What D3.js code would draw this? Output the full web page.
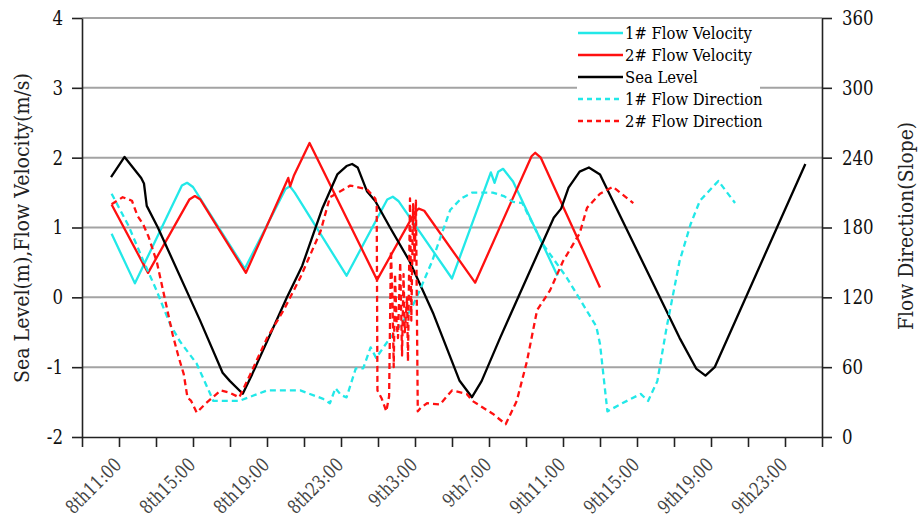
<!DOCTYPE html>
<html>
<head>
<meta charset="utf-8">
<script src="https://cdn.jsdelivr.net/npm/d3@7"></script>
<style>
body { margin: 0; background: #fff; }
</style>
</head>
<body>
<div id="chart" style="width:919px;height:527px"></div>
<script>
// time is in hours counted from 8th 00:00
const seaLevel = [[10.57,1.72],[11.3,2.01],[12.2,1.71],[12.35,1.63],[12.5,1.31],[13.1,1.0],[15.38,-0.33],[16.6,-1.08],[17.0,-1.2],[17.69,-1.38],[18.2,-1.1],[20.08,0.0],[20.9,0.45],[22.0,1.28],[22.8,1.76],[23.3,1.88],[23.6,1.91],[23.9,1.86],[24.4,1.52],[24.85,1.38],[25.65,1.0],[26.7,0.52],[28.0,-0.24],[29.4,-1.19],[30.08,-1.43],[30.6,-1.2],[31.6,-0.58],[34.5,1.14],[34.9,1.27],[35.3,1.57],[35.9,1.8],[36.4,1.86],[37.0,1.76],[41.3,-0.58],[42.2,-1.02],[42.7,-1.12],[43.2,-1.0],[48.1,1.91]];

const velocity1 = [[10.6,0.91],[11.86,0.2],[14.4,1.6],[14.68,1.64],[15.0,1.58],[17.8,0.41],[20.0,1.55],[20.24,1.59],[20.5,1.5],[23.3,0.31],[25.5,1.4],[25.8,1.44],[26.1,1.38],[29.0,0.27],[31.1,1.79],[31.3,1.64],[31.5,1.8],[31.76,1.84],[32.3,1.66],[34.7,0.31]];

const velocity2 = [[10.6,1.33],[12.57,0.35],[14.8,1.4],[15.1,1.45],[15.4,1.4],[17.86,0.35],[20.15,1.71],[20.25,1.59],[20.45,1.74],[21.3,2.21],[24.95,0.25],[27.0,1.22],[27.2,1.27],[27.5,1.24],[30.25,0.21],[33.3,2.02],[33.5,2.07],[33.8,2.0],[37.0,0.14]];

const direction1 = [[10.6,209],[11.5,182],[12.3,152],[13.0,127],[13.76,97],[14.3,82],[15.2,63],[16.1,31],[17.5,31],[19.0,40],[20.8,40],[22.0,33],[22.4,29],[22.7,42],[23.0,36],[23.3,34],[23.8,59],[24.2,59],[24.6,77],[24.9,68],[25.6,84],[26.2,96],[26.8,110],[27.2,124],[27.9,150],[28.9,195],[29.5,205],[30.1,210],[31.2,210],[31.8,207],[32.3,202],[32.8,201],[33.9,166],[35.2,137],[36.8,95],[37.0,80],[37.4,22],[38.2,29],[39.2,37],[39.6,31],[40.1,48],[40.6,94],[41.3,151],[41.9,183],[42.4,203],[43.4,220],[44.3,201]];

const direction2 = [[10.6,200],[11.2,206],[11.7,203],[12.0,190],[12.3,183],[12.6,172],[13.05,150],[13.6,110],[13.9,88],[14.2,70],[14.5,54],[14.7,34],[14.9,31],[15.2,21],[15.7,29],[16.5,40],[17.0,38],[17.5,34],[18.1,54],[19.0,85],[19.9,109],[20.8,137],[21.9,177],[22.4,206],[23.5,216],[24.4,213],[24.85,205],[24.93,200],[24.97,40],[25.2,33],[25.45,22],[25.6,35],[25.7,160],[25.78,120],[25.85,60],[25.92,140],[26.0,100],[26.08,85],[26.2,150],[26.3,70],[26.38,140],[26.45,90],[26.57,120],[26.62,65],[26.73,205],[26.8,100],[26.9,200],[26.98,150],[27.05,203],[27.15,22],[27.3,25],[27.65,29],[28.35,28],[29.0,40],[29.8,37],[30.1,31],[31.2,20],[31.9,11],[32.5,31],[33.05,65],[33.6,109],[34.3,126],[35.0,151],[35.9,175],[36.3,197],[37.0,209],[37.7,215],[38.8,201]];

const timeTicks = d3.range(9, 50, 2);
const labelHours = [11, 15, 19, 23, 27, 31, 35, 39, 43, 47];
const labelTexts = ["8th11:00", "8th15:00", "8th19:00", "8th23:00", "9th3:00", "9th7:00", "9th11:00", "9th15:00", "9th19:00", "9th23:00"];
const leftTicks = [-2, -1, 0, 1, 2, 3, 4];
const rightTicks = [0, 60, 120, 180, 240, 300, 360];

const seriesNames = ["1# Flow Velocity", "2# Flow Velocity", "Sea Level", "1# Flow Direction", "2# Flow Direction"];

const FONT = "'DejaVu Serif', serif";
const W = 919, H = 527;
const margin = { top: 18, right: 97, bottom: 90, left: 82 };

// DejaVu Serif runs wider than the Times face of the original, squeeze it a bit
function condense(sel, k) {
    sel.each(function () {
        const n = this.getComputedTextLength();
        d3.select(this).attr("textLength", n * k).attr("lengthAdjust", "spacingAndGlyphs");
    });
}

const svg = d3.select("#chart").append("svg")
    .attr("width", W)
    .attr("height", H)
    .attr("font-family", FONT);

svg.append("rect").attr("width", W).attr("height", H).attr("fill", "#fff");

// SCALES
const x = d3.scaleLinear().domain([9, 49]).range([margin.left, W - margin.right]);
const yL = d3.scaleLinear().domain([-2, 4]).range([H - margin.bottom, margin.top]);
const yR = d3.scaleLinear().domain([0, 360]).range([H - margin.bottom, margin.top]);

// grid
svg.append("g").selectAll("line")
    .data(leftTicks.slice(1))
    .join("line")
    .attr("x1", margin.left).attr("x2", W - margin.right)
    .attr("y1", d => yL(d)).attr("y2", d => yL(d))
    .attr("stroke", "#a3a3a3").attr("stroke-width", 2);

// legend background hides the grid
svg.append("rect")
    .attr("x", 577).attr("y", 21)
    .attr("width", 183).attr("height", 124)
    .attr("fill", "#fff");

const styles = [
    { color: "#22e8e8", dash: null },
    { color: "#ff1010", dash: null },
    { color: "#000", dash: null },
    { color: "#22e8e8", dash: "6,4" },
    { color: "#ff1010", dash: "6,4" }
];

const lineL = d3.line().x(d => x(d[0])).y(d => yL(d[1]));
const lineR = d3.line().x(d => x(d[0])).y(d => yR(d[1]));

const paths = [
    lineL(velocity1), lineL(velocity2), lineL(seaLevel),
    lineR(direction1), lineR(direction2)
];

svg.append("g").selectAll("path")
    .data(paths)
    .join("path")
    .attr("d", d => d)
    .attr("fill", "none")
    .attr("stroke", (d, i) => styles[i].color)
    .attr("stroke-width", 2.3)
    .attr("stroke-linejoin", "round")
    .attr("stroke-dasharray", (d, i) => styles[i].dash);

// AXES
const xAxis = svg.append("g")
    .attr("transform", "translate(0," + (H - margin.bottom) + ")")
    .call(d3.axisBottom(x)
        .tickValues(timeTicks)
        .tickSize(10)
        .tickSizeOuter(0)
        .tickFormat(d => {
            const k = labelHours.indexOf(d);
            return k < 0 ? "" : labelTexts[k];
        }));

const yAxisL = svg.append("g")
    .attr("transform", "translate(" + margin.left + ",0)")
    .call(d3.axisLeft(yL).tickValues(leftTicks).tickSize(10).tickSizeOuter(0).tickPadding(9)
        .tickFormat(d => String(d)));

const yAxisR = svg.append("g")
    .attr("transform", "translate(" + (W - margin.right) + ",0)")
    .call(d3.axisRight(yR).tickValues(rightTicks).tickSize(10).tickSizeOuter(0).tickPadding(10));

[xAxis, yAxisL, yAxisR].forEach(a => {
    a.attr("font-family", FONT);
    a.select(".domain").attr("stroke", "#222").attr("stroke-width", 1.6);
    a.selectAll(".tick line").attr("stroke", "#222").attr("stroke-width", 1.6);
});

xAxis.selectAll("text")
    .attr("font-size", 19)
    .attr("fill", "#444")
    .style("text-anchor", "end")
    .attr("x", 0).attr("y", 0).attr("dy", 0)
    .attr("transform", "translate(3,29) rotate(-45)")
    .call(condense, 0.8);

yAxisL.selectAll("text").attr("font-size", 20).attr("fill", "#111").call(condense, 0.83);
yAxisR.selectAll("text").attr("font-size", 20).attr("fill", "#111").call(condense, 0.83);

// AXES LABELS
svg.append("text")
    .text("Sea Level(m),Flow Velocity(m/s)")
    .attr("transform", "translate(29,228) rotate(-90)")
    .attr("text-anchor", "middle")
    .attr("font-size", 20)
    .attr("textLength", 310)
    .attr("lengthAdjust", "spacingAndGlyphs")
    .attr("fill", "#222");

svg.append("text")
    .text("Flow Direction(Slope)")
    .attr("transform", "translate(913,226) rotate(-90)")
    .attr("text-anchor", "middle")
    .attr("font-size", 20)
    .attr("textLength", 208)
    .attr("lengthAdjust", "spacingAndGlyphs")
    .attr("fill", "#222");

// LEGEND
const legend = svg.append("g").selectAll("g")
    .data(seriesNames)
    .join("g")
    .attr("transform", (d, i) => "translate(578," + (33 + i * 22) + ")");

legend.append("line")
    .attr("x1", 0).attr("x2", 45)
    .attr("stroke", (d, i) => styles[i].color)
    .attr("stroke-width", 2.3)
    .attr("stroke-dasharray", (d, i) => styles[i].dash ? "5,4" : null);

legend.append("text")
    .text(d => d)
    .attr("x", 47).attr("dy", "0.33em")
    .attr("font-size", 17)
    .call(condense, 0.87);
</script>
</body>
</html>
